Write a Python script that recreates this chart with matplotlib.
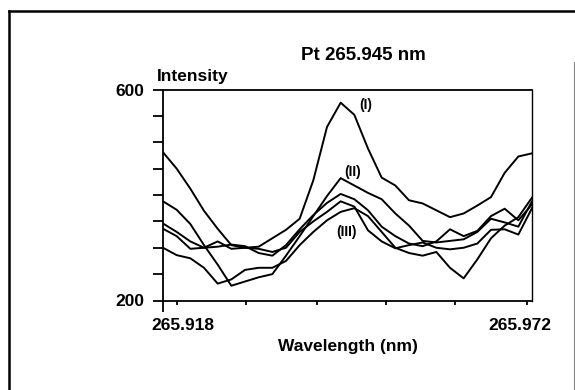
import matplotlib
matplotlib.use('Agg')
import matplotlib.pyplot as plt
from matplotlib.lines import Line2D

plt.rcParams['font.family'] = ['Liberation Sans', 'DejaVu Sans']

# wavelength grid (nm)
wavelength = [265.918, 265.920, 265.922, 265.924, 265.926, 265.928, 265.930,
              265.932, 265.934, 265.936, 265.938, 265.940, 265.942, 265.944,
              265.946, 265.948, 265.950, 265.952, 265.954, 265.956, 265.958,
              265.960, 265.962, 265.964, 265.966, 265.968, 265.970, 265.972]

# intensities
curve_1 = [481, 450, 412, 370, 336, 305, 300, 302, 318, 334, 355, 428, 529, 575,
           552, 488, 433, 418, 390, 384, 371, 358, 365, 380, 396, 442, 473, 479]
curve_2 = [388, 372, 345, 305, 268, 228, 236, 244, 250, 285, 322, 360, 398, 432,
           418, 404, 392, 365, 342, 313, 310, 313, 316, 330, 355, 348, 340, 388]
curve_3 = [300, 286, 280, 262, 232, 240, 258, 262, 262, 275, 305, 330, 352, 368,
           375, 360, 330, 300, 290, 285, 292, 262, 242, 278, 318, 342, 358, 395]
curve_4 = [346, 330, 312, 300, 302, 306, 303, 290, 285, 305, 335, 362, 385, 402,
           392, 371, 340, 322, 308, 303, 312, 335, 322, 332, 360, 374, 352, 382]
curve_5 = [336, 322, 298, 300, 312, 298, 300, 298, 292, 300, 330, 350, 368, 388,
           378, 333, 312, 299, 305, 310, 300, 297, 300, 308, 334, 335, 325, 375]

y_ticks = [200, 250, 300, 350, 400, 450, 500, 550, 600]
y_tick_labels = ['200', '', '', '', '', '', '', '', '600']
x_minor = [265.920, 265.9302, 265.9405, 265.9506, 265.9607, 265.9712]
x_labels = ['265.918', '265.972']

# curve tags: (text, wavelength, intensity)
tags = [('(I)', 265.9477, 570), ('(II)', 265.9457, 443), ('(III)', 265.9448, 329)]

fig = plt.figure(figsize=(5.75, 3.9), dpi=100)
ax = fig.add_axes([163 / 575, 1 - 300.5 / 390, 369 / 575, 211 / 390])

for c in [curve_1, curve_2, curve_3, curve_4, curve_5]:
    ax.plot(wavelength, c, color='black', linewidth=1.4)

for txt, xw, yv in tags:
    ax.text(xw, yv, txt, ha='center', va='center', fontsize=10, fontweight='bold')

ax.set_xlim(265.918, 265.972)
ax.set_ylim(200, 600)

ax.set_yticks(y_ticks)
ax.set_yticklabels(y_tick_labels)
ax.tick_params(axis='y', direction='out', length=7.5, width=1.3, pad=6, labelsize=12.5)
for lbl in ax.get_yticklabels():
    lbl.set_fontweight('bold')

ax.set_xticks([265.918])
ax.set_xticklabels([''])
ax.set_xticks(x_minor, minor=True)
ax.tick_params(axis='x', which='major', direction='out', length=8, width=1.3)
ax.tick_params(axis='x', which='minor', direction='out', length=3, width=1.3)

for s in ax.spines.values():
    s.set_linewidth(1.3)
ax.spines['right'].set_linewidth(1.0)

fig.text(182.5 / 575, 1 - 326 / 390, x_labels[0], ha='center', va='center',
         fontsize=12.5, fontweight='bold')
fig.text(519.5 / 575, 1 - 326 / 390, x_labels[1], ha='center', va='center',
         fontsize=12.5, fontweight='bold')

fig.text(363 / 575, 1 - 56 / 390, 'Pt 265.945 nm', ha='center', va='center',
         fontsize=13.5, fontweight='bold')
fig.text(157 / 575, 1 - 77 / 390, 'Intensity', ha='left', va='center',
         fontsize=12.5, fontweight='bold')
fig.text(348 / 575, 1 - 346 / 390, 'Wavelength (nm)', ha='center', va='center',
         fontsize=12.5, fontweight='bold')

# outer frame of the scanned figure
fig.add_artist(Line2D([9 / 575, 9 / 575], [0, 1 - 11 / 390], color='black', linewidth=1.8))
fig.add_artist(Line2D([9 / 575, 1], [1 - 11 / 390, 1 - 11 / 390], color='black', linewidth=1.8))
fig.add_artist(Line2D([573.5 / 575, 573.5 / 575], [0, 1 - 62 / 390], color='#888888', linewidth=0.8))

fig.savefig('out.png', dpi=100)
